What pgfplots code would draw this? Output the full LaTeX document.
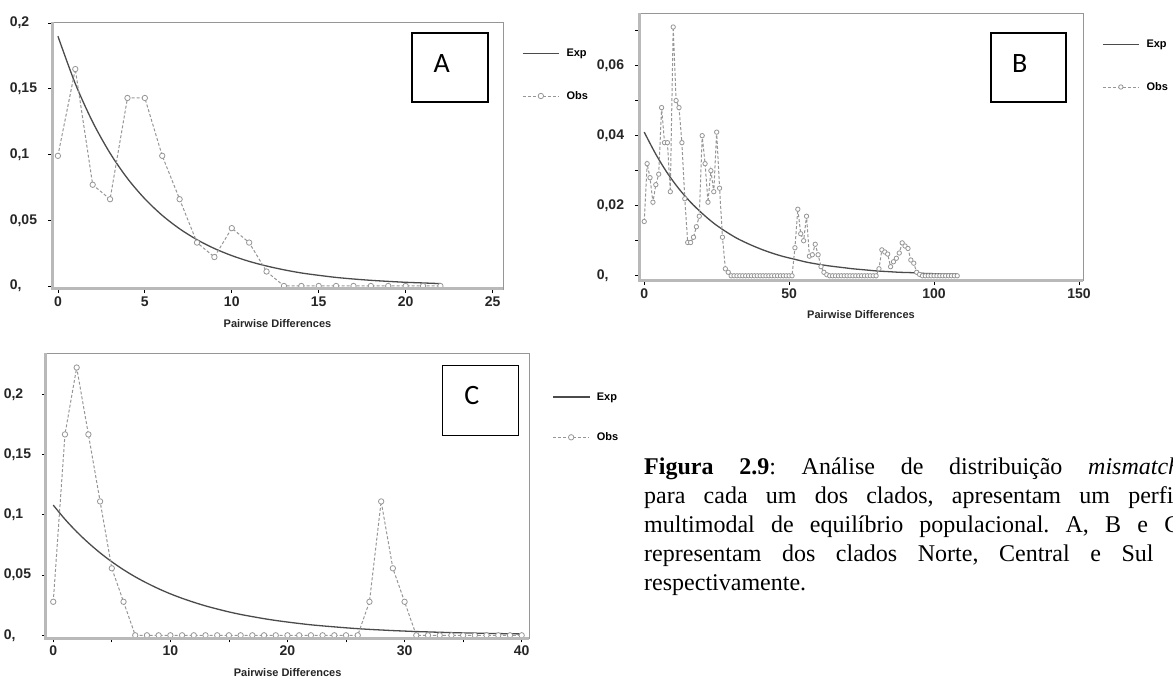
\documentclass[border=0pt]{standalone}
\usepackage{fontspec}
\setmainfont{Liberation Serif}
\setsansfont{Liberation Sans}
\newfontfamily\boxfont{Carlito}
\usepackage{pgfplots}
\pgfplotsset{compat=1.18}

\definecolor{framegray}{RGB}{150,150,150}
\definecolor{axisgray}{RGB}{185,185,185}
\definecolor{expgray}{RGB}{75,75,75}
\definecolor{obsgray}{RGB}{150,150,150}

\pgfplotsset{
  mm/.style={
    scale only axis, anchor=south west,
    axis line style={draw=framegray, line width=0.8pt},
    tick align=outside, major tick length=4pt, tick pos=left,
    tick style={draw=black, line width=0.8pt},
    scaled ticks=false,
    ticklabel style={font=\sffamily\bfseries\fontsize{14}{14}\selectfont, text=black!85},
    yticklabel style={anchor=east, text width=33pt, align=left, inner sep=0pt, xshift=-5pt},
    xlabel={Pairwise Differences},
    xlabel style={font=\sffamily\bfseries\fontsize{11}{11}\selectfont, text=black!85, yshift=-6pt},
    legend style={draw=none, fill=none, at={(1,1)}, anchor=north west,
      xshift=19pt, yshift=-25pt, row sep=29pt, inner sep=0pt,
      font=\sffamily\bfseries\fontsize{11}{11}\selectfont,
      /tikz/every odd column/.append style={column sep=5pt}},
    legend cell align=left,
    legend image code/.code={\draw[mark repeat=2,mark phase=2,##1] plot coordinates {(0pt,0pt) (18pt,0pt) (36pt,0pt)};},
    after end axis/.code={\draw[axisgray, line width=3pt] (rel axis cs:0,1) -- (rel axis cs:0,0) -- (rel axis cs:1,0);},
  },
  expline/.style={draw=expgray, line width=1.3pt, smooth, no markers},
  obsline/.style={draw=obsgray, line width=1pt, dash pattern=on 3pt off 2pt,
    mark=*, mark size=2.7pt, mark options={solid, draw=obsgray, fill=white, line width=0.8pt}},
}

\begin{document}
\frenchspacing
\begin{tikzpicture}[x=1pt,y=1pt]
\useasboundingbox (0,0) rectangle (1173,681);
\clip (0,0) rectangle (1173,681);

% A - Norte
\begin{axis}[mm, at={(52pt,392pt)}, width=451pt, height=267pt,
  xmin=-0.34, xmax=25.6, ymin=-0.0023, ymax=0.2008,
  xtick={0,5,10,15,20,25}, xticklabels={0,5,10,15,20,25},
  ytick={0,0.05,0.1,0.15,0.2}, yticklabels={{0,},{0,05},{0,1},{0,15},{0,2}}]
\addplot[expline] coordinates {(0,0.19) (1,0.1539) (2,0.1247) (3,0.1010) (4,0.0818) (5,0.0663) (6,0.0537) (7,0.0435) (8,0.0352) (9,0.0285) (10,0.0231) (11,0.0187) (12,0.0152) (13,0.0123) (14,0.0099) (15,0.0081) (16,0.0065) (17,0.0053) (18,0.0043) (19,0.0035) (20,0.0028) (21,0.0023) (22,0.0018)};
\addlegendentry{Exp}
\addplot[obsline] coordinates {(0,0.099) (1,0.165) (2,0.077) (3,0.066) (4,0.143) (5,0.143) (6,0.099) (7,0.066) (8,0.033) (9,0.022) (10,0.044) (11,0.033) (12,0.011) (13,0) (14,0) (15,0) (16,0) (17,0) (18,0) (19,0) (20,0) (21,0) (22,0)};
\addlegendentry{Obs}
\end{axis}

\fill[white] (590,371) rectangle (1173,681);

% B - Central
\begin{axis}[mm, at={(639pt,400.3pt)}, width=444pt, height=267.7pt,
  xmin=-1.8, xmax=151.4, ymin=-0.0014, ymax=0.075,
  xtick={0,50,100,150}, xticklabels={0,50,100,150},
  ytick={0,0.01,0.02,0.03,0.04,0.05,0.06,0.07},
  yticklabels={{0,},{},{0,02},{},{0,04},{},{0,06},{}}]
\addplot[expline] coordinates {(0,0.0410) (4,0.0347) (8,0.0293) (12,0.0248) (16,0.0210) (20,0.0178) (24,0.0150) (28,0.0127) (32,0.0107) (36,0.0091) (40,0.0077) (44,0.0065) (48,0.0055) (52,0.0047) (56,0.0039) (60,0.0033) (64,0.0028) (68,0.0024) (72,0.0020) (76,0.0017) (80,0.0014) (84,0.0012) (88,0.0010) (92,0.0009) (96,0.0007) (100,0.0006) (104,0.0005) (108,0.0005)};
\addlegendentry{Exp}
\addplot[obsline, mark size=2.2pt] coordinates {(0,0.0155) (1,0.032) (2,0.028) (3,0.021) (4,0.026) (5,0.029) (6,0.048) (7,0.038) (8,0.038) (9,0.024) (10,0.071) (11,0.050) (12,0.048) (13,0.038) (14,0.022) (15,0.0095) (16,0.0095) (17,0.011) (18,0.014) (19,0.017) (20,0.040) (21,0.032) (22,0.021) (23,0.030) (24,0.024) (25,0.041) (26,0.025) (27,0.011) (28,0.002) (29,0.001) (30,0) (31,0) (32,0) (33,0) (34,0) (35,0) (36,0) (37,0) (38,0) (39,0) (40,0) (41,0) (42,0) (43,0) (44,0) (45,0) (46,0) (47,0) (48,0) (49,0) (50,0) (51,0) (52,0.008) (53,0.019) (54,0.012) (55,0.010) (56,0.017) (57,0.0056) (58,0.006) (59,0.009) (60,0.006) (61,0.0026) (62,0.001) (63,0.0003) (64,0) (65,0) (66,0) (67,0) (68,0) (69,0) (70,0) (71,0) (72,0) (73,0) (74,0) (75,0) (76,0) (77,0) (78,0) (79,0) (80,0) (81,0.002) (82,0.0074) (83,0.0068) (84,0.0062) (85,0.0026) (86,0.004) (87,0.005) (88,0.0065) (89,0.0094) (90,0.0085) (91,0.0078) (92,0.0045) (93,0.0036) (94,0.001) (95,0.0004) (96,0) (97,0) (98,0) (99,0) (100,0) (101,0) (102,0) (103,0) (104,0) (105,0) (106,0) (107,0) (108,0)};
\addlegendentry{Obs}
\end{axis}

% C - Sul
\begin{axis}[mm, at={(46pt,42.7pt)}, width=483.3pt, height=285pt,
  xmin=-0.62, xmax=40.65, ymin=-0.0025, ymax=0.234,
  xtick={0,5,10,15,20,25,30,35,40}, xticklabels={0,,10,,20,,30,,40},
  ytick={0,0.05,0.1,0.15,0.2}, yticklabels={{0,},{0,05},{0,1},{0,15},{0,2}},
  legend style={xshift=4pt, yshift=-12pt, row sep=27pt}]
\addplot[expline] coordinates {(0,0.1080) (1,0.0963) (2,0.0859) (3,0.0767) (4,0.0684) (5,0.0610) (6,0.0544) (7,0.0485) (8,0.0433) (9,0.0386) (10,0.0344) (11,0.0307) (12,0.0274) (13,0.0244) (14,0.0218) (15,0.0194) (16,0.0173) (17,0.0155) (18,0.0138) (19,0.0123) (20,0.0110) (21,0.0098) (22,0.0087) (23,0.0078) (24,0.0070) (25,0.0062) (26,0.0055) (27,0.0049) (28,0.0044) (29,0.0039) (30,0.0035) (31,0.0031) (32,0.0028) (33,0.0025) (34,0.0022) (35,0.0020) (36,0.0018) (37,0.0016) (38,0.0014) (39,0.0013) (40,0.0011)};
\addlegendentry{Exp}
\addplot[obsline] coordinates {(0,0.0278) (1,0.1667) (2,0.2222) (3,0.1667) (4,0.1111) (5,0.0556) (6,0.0278) (7,0) (8,0) (9,0) (10,0) (11,0) (12,0) (13,0) (14,0) (15,0) (16,0) (17,0) (18,0) (19,0) (20,0) (21,0) (22,0) (23,0) (24,0) (25,0) (26,0) (27,0.0278) (28,0.1111) (29,0.0556) (30,0.0278) (31,0) (32,0) (33,0) (34,0) (35,0) (36,0) (37,0) (38,0) (39,0) (40,0)};
\addlegendentry{Obs}
\end{axis}

% panel letters
\node[draw=black, line width=1.5pt, fill=white, minimum width=76pt, minimum height=69pt, inner sep=0pt] at (450,613.7) {};
\node[font=\boxfont\fontsize{28}{28}\selectfont, inner sep=0pt] at (441.7,617.7) {A};
\node[draw=black, line width=1.5pt, fill=white, minimum width=75pt, minimum height=69pt, inner sep=0pt] at (1028.3,613.7) {};
\node[font=\boxfont\fontsize{28}{28}\selectfont, inner sep=0pt] at (1019.7,617.7) {B};
\node[draw=black, line width=1.5pt, fill=white, minimum width=76pt, minimum height=70pt, inner sep=0pt] at (480.7,280.3) {};
\node[font=\boxfont\fontsize{28}{28}\selectfont, inner sep=0pt] at (471.8,285) {C};

% caption
\begin{scope}[every node/.style={anchor=base west, inner sep=0pt, font=\fontsize{24}{28}\selectfont}]
\node at (644,207) {\makebox[536pt][s]{\textbf{Figura 2.9}: Análise de distribuição \textit{mismatch}}};
\node at (644,178) {\makebox[536pt][s]{para cada um dos clados, apresentam um perfil}};
\node at (644,149) {\makebox[536pt][s]{multimodal de equilíbrio populacional. A, B e C}};
\node at (644,120) {\makebox[536pt][s]{representam dos clados Norte, Central e Sul ,}};
\node at (644,91) {respectivamente.};
\end{scope}
\end{tikzpicture}
\end{document}
